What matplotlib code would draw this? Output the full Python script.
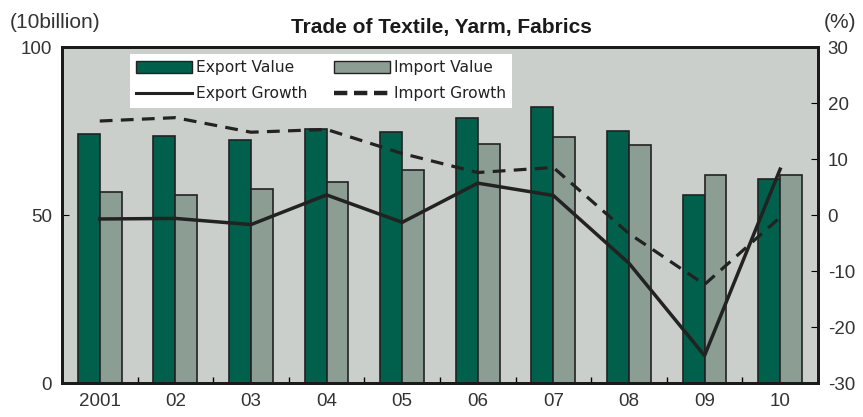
import numpy as np
import matplotlib.pyplot as plt
from matplotlib.lines import Line2D
from matplotlib.patches import Patch

years = ["2001", "02", "03", "04", "05", "06", "07", "08", "09", "10"]
export_value = [74.1, 73.5, 72.3, 75.6, 74.7, 78.9, 82.1, 75.0, 56.0, 60.7]
import_value = [56.8, 56.0, 57.7, 59.8, 63.4, 71.1, 73.2, 70.8, 61.9, 61.9]
export_growth = [-0.7, -0.6, -1.7, 3.6, -1.3, 5.7, 3.5, -8.6, -25.1, 8.2]
import_growth = [16.8, 17.4, 14.8, 15.3, 11.0, 7.6, 8.5, -3.3, -12.4, -0.4]

plt.rcParams['font.family'] = ['Liberation Sans', 'DejaVu Sans']
plt.rcParams['axes.unicode_minus'] = False
txt = '#333333'

fig = plt.figure(figsize=(8.63, 4.17), dpi=100)
ax = fig.add_axes([0.0718, 0.0815, 0.876, 0.8055])
ax.set_facecolor('#cbcfcb')

x = np.arange(len(years)) + 0.5
w = 0.29
ax.bar(x - w / 2, export_value, w, color='#00604b', edgecolor='#222222', linewidth=1.2, zorder=2)
ax.bar(x + w / 2, import_value, w, color='#8c9e94', edgecolor='#222222', linewidth=1.2, zorder=2)
ax.set_xlim(0, len(years))
ax.set_ylim(0, 100)
ax.set_yticks([0, 50, 100])
ax.set_xticks(np.arange(1, len(years)))
ax.set_xticklabels([])
ax.set_xticks(x, minor=True)
ax.set_xticklabels(years, minor=True)
ax.tick_params(axis='x', which='major', direction='in', length=4, width=1)
ax.tick_params(axis='x', which='minor', length=0, labelsize=13.5, pad=7, labelcolor=txt)
ax.tick_params(axis='y', direction='in', length=5, labelsize=13.5, pad=7, labelcolor=txt)
for s in ax.spines.values():
    s.set_linewidth(2)
    s.set_color('#1a1a1a')

ax2 = ax.twinx()
ax2.plot(x, export_growth, color='#222222', lw=2.5, zorder=3)
ax2.plot(x, import_growth, color='#222222', lw=2.3, ls=(0, (4, 2.6)), zorder=3)
ax2.set_ylim(-30, 30)
ax2.set_yticks(range(-30, 31, 10))
ax2.tick_params(axis='y', direction='in', length=5, labelsize=13.5, pad=7, labelcolor=txt)
for s in ax2.spines.values():
    s.set_linewidth(2)
    s.set_color('#1a1a1a')

handles = [Patch(facecolor='#00604b', edgecolor='#222222'),
           Line2D([], [], color='#222222', lw=2.2),
           Patch(facecolor='#8c9e94', edgecolor='#222222'),
           Line2D([], [], color='#222222', lw=3.2, ls=(0, (3, 1.5)))]
labels = ["Export Value", "Export Growth", "Import Value", "Import Growth"]
leg = ax2.legend(handles, labels, ncol=2, loc='upper left', bbox_to_anchor=(0.09, 0.979),
                 borderaxespad=0, frameon=True, fancybox=False, framealpha=1,
                 edgecolor='white', prop={'family': 'DejaVu Sans', 'size': 11.2},
                 handlelength=3.6, handletextpad=0.25, columnspacing=1.7,
                 labelspacing=0.7, borderpad=0.4, handleheight=0.8)
leg.get_frame().set_linewidth(0)
for t in leg.get_texts():
    t.set_color('#222222')

fig.text(0.512, 0.935, "Trade of Textile, Yarm, Fabrics", ha='center', va='center',
         fontsize=15, fontweight='bold', color='#1a1a1a')
fig.text(0.011, 0.945, "(10billion)", ha='left', va='center', fontsize=15, color=txt)
fig.text(0.992, 0.945, "(%)", ha='right', va='center', fontsize=15, color=txt)

fig.savefig('out.png', dpi=100)
